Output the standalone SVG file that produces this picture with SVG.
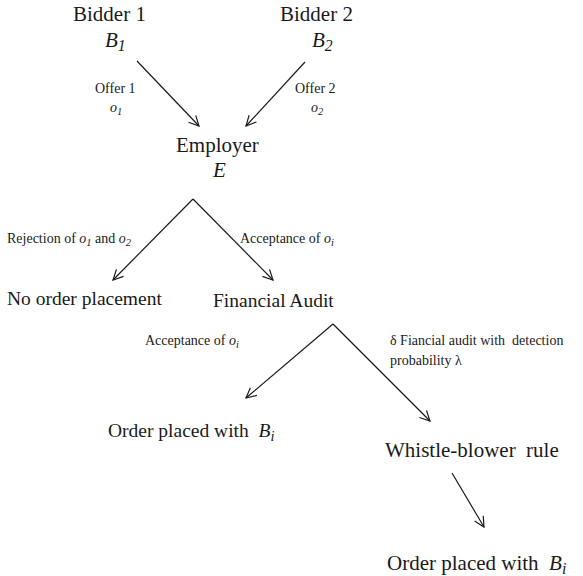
<svg xmlns="http://www.w3.org/2000/svg" width="583" height="576" viewBox="0 0 583 576" xml:space="preserve">
<style>
text{font-family:"Liberation Serif","Times New Roman",serif;fill:#1a1a1a;white-space:pre}
.big{font-size:21px}
.mid{font-size:19.5px}
.sm{font-size:14px}
.it{font-style:italic}
.sub{font-size:0.75em}
.edge{stroke:#1a1a1a;stroke-width:1.2;fill:none;marker-end:url(#ah)}
</style>
<defs>
<marker id="ah" viewBox="0 0 12 12" refX="11" refY="6" markerWidth="12" markerHeight="12" markerUnits="userSpaceOnUse" orient="auto">
<path d="M1,1 L11,6 L1,11" fill="none" stroke="#1a1a1a" stroke-width="1.2"/>
</marker>
</defs>
<rect width="583" height="576" fill="#fff"/>
<g id="connectors">
<line class="edge" x1="137" y1="61" x2="199" y2="126"/>
<line class="edge" x1="305" y1="62" x2="246" y2="126"/>
<line class="edge" x1="193" y1="199" x2="113" y2="280"/>
<line class="edge" x1="193" y1="199" x2="273" y2="280"/>
<line class="edge" x1="333" y1="324" x2="246" y2="398"/>
<line class="edge" x1="333" y1="324" x2="430" y2="421"/>
<line class="edge" x1="452" y1="473" x2="484" y2="527"/>
<text class="sm" x="95" y="93">Offer 1</text>
<text class="sm it" x="110" y="112">o<tspan class="sub" dy="3">1</tspan></text>
<text class="sm" x="295" y="93">Offer 2</text>
<text class="sm it" x="311" y="112">o<tspan class="sub" dy="3">2</tspan></text>
<text class="sm" x="7" y="243">Rejection of <tspan class="it">o<tspan class="sub" dy="3">1</tspan></tspan><tspan dy="-3"> and </tspan><tspan class="it">o<tspan class="sub" dy="3">2</tspan></tspan></text>
<text class="sm" x="240" y="243">Acceptance of <tspan class="it">o<tspan class="sub" dy="3">i</tspan></tspan></text>
<text class="sm" x="145" y="345">Acceptance of <tspan class="it">o<tspan class="sub" dy="3">i</tspan></tspan></text>
<text class="sm" x="390" y="345">δ Fiancial audit with  detection</text>
<text class="sm" x="390" y="365">probability λ</text>
</g>
<g id="bidder1">
<text class="big" x="73" y="21">Bidder 1</text>
<text class="big it" x="105" y="47">B<tspan class="sub" dy="4">1</tspan></text>
</g>
<g id="bidder2">
<text class="big" x="280" y="21">Bidder 2</text>
<text class="big it" x="312" y="47">B<tspan class="sub" dy="4">2</tspan></text>
</g>
<g id="employer">
<text class="big" x="176" y="152">Employer</text>
<text class="big it" x="213" y="177">E</text>
</g>
<g id="no-order">
<text class="mid" x="7" y="305">No order placement</text>
</g>
<g id="financial-audit">
<text class="mid" x="213" y="307">Financial Audit</text>
</g>
<g id="order-placed-1">
<text class="mid" x="108" y="437">Order placed with  <tspan class="it">B<tspan class="sub" dy="4">i</tspan></tspan></text>
</g>
<g id="whistle-blower">
<text class="big" x="385" y="457">Whistle-blower  rule</text>
</g>
<g id="order-placed-2">
<text class="big" x="387" y="570">Order placed with  <tspan class="it">B<tspan class="sub" dy="4">i</tspan></tspan></text>
</g>
</svg>
